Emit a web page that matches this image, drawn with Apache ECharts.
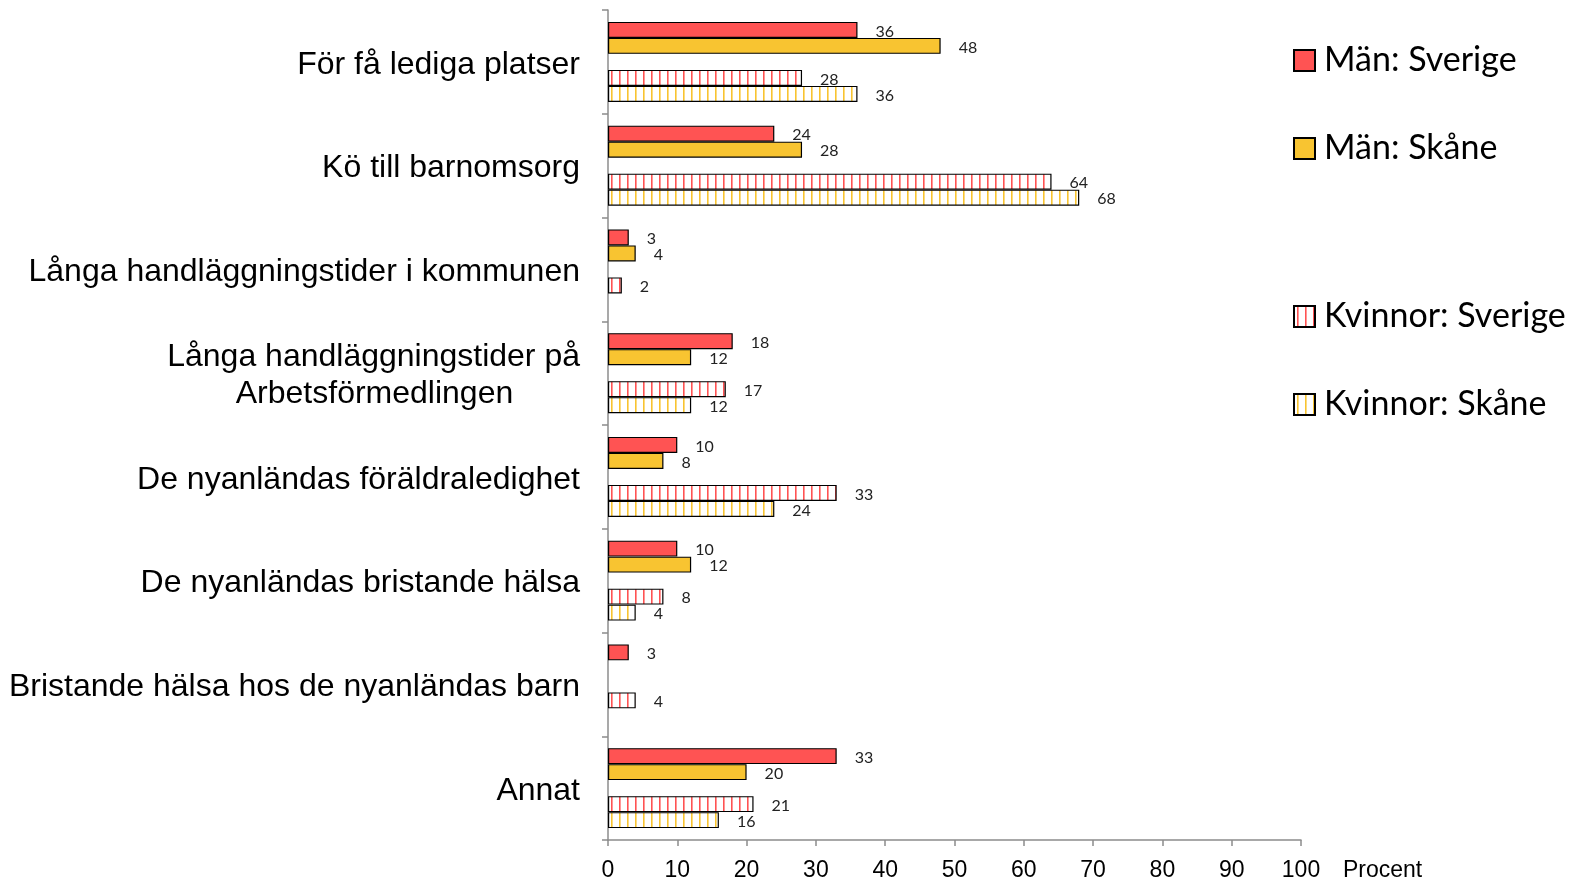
<!DOCTYPE html>
<html>
<head>
<meta charset="utf-8">
<script src="https://cdn.jsdelivr.net/npm/echarts@6/dist/echarts.min.js"></script>
<style>
    html, body { margin: 0; padding: 0; background: #fff; }
    #chart { width: 1572px; height: 880px; }
</style>
</head>
<body>
<div id="chart"></div>
<script>
// 数据
let categories = [
    'För få lediga platser',
    'Kö till barnomsorg',
    'Långa handläggningstider i kommunen',
    'Långa handläggningstider på\nArbetsförmedlingen',
    'De nyanländas föräldraledighet',
    'De nyanländas bristande hälsa',
    'Bristande hälsa hos de nyanländas barn',
    'Annat'
];
let manSverige = [36, 24, 3, 18, 10, 10, 3, 33];
let manSkane = [48, 28, 4, 12, 8, 12, '-', 20];
let kvinnorSverige = [28, 64, 2, 17, 33, 8, 4, 21];
let kvinnorSkane = [36, 68, '-', 12, 24, 4, '-', 16];
let xTicks = [0, 10, 20, 30, 40, 50, 60, 70, 80, 90, 100];

let red = '#FF5353';
let yellow = '#F8C431';

// 竖条纹填充
function stripes(color) {
    let c = document.createElement('canvas');
    c.width = 8;
    c.height = 16;
    let ctx = c.getContext('2d');
    ctx.fillStyle = '#fff';
    ctx.fillRect(0, 0, 8, 16);
    ctx.fillStyle = color;
    ctx.fillRect(3, 0, 1.6, 16);
    return {image: c, repeat: 'repeat'};
}

function barSeries(name, data, fill) {
    return {
        name: name,
        type: 'bar',
        data: data,
        barWidth: 16,
        barGap: '0%',
        itemStyle: {
            color: fill,
            borderColor: '#000',
            borderWidth: 1.2
        },
        label: {
            show: true,
            position: 'right',
            distance: 18,
            offset: [0, 1.5],
            fontSize: 16,
            color: '#222',
            fontFamily: 'Lato'
        }
    };
}

let legendText = {fontSize: 34, lineHeight: 32, color: '#000', fontFamily: 'Lato', padding: [0, 0, 0, 4]};

let myChart = echarts.init(document.getElementById('chart'));

let option = {
    animation: false,
    backgroundColor: '#fff',
    grid: {left: 608, right: 271, top: 10, bottom: 40, containLabel: false, outerBoundsMode: 'none'},
    legend: [{
        orient: 'vertical',
        left: 1293,
        top: 43.5,
        padding: 0,
        itemGap: 54,
        itemWidth: 21,
        itemHeight: 21,
        icon: 'rect',
        data: ['Män: Sverige', 'Män: Skåne'],
        textStyle: legendText
    }, {
        orient: 'vertical',
        left: 1293,
        top: 299.5,
        padding: 0,
        itemGap: 54,
        itemWidth: 21,
        itemHeight: 21,
        icon: 'rect',
        data: ['Kvinnor: Sverige', 'Kvinnor: Skåne'],
        textStyle: legendText
    }],
    xAxis: {
        type: 'value',
        min: xTicks[0],
        max: xTicks[xTicks.length - 1],
        interval: 10,
        splitLine: {show: false},
        axisLine: {show: true, lineStyle: {color: '#8c8c8c', width: 1.5}},
        axisTick: {show: true, length: 6, lineStyle: {color: '#8c8c8c', width: 1.5}},
        axisLabel: {fontSize: 23, color: '#000', fontFamily: 'Liberation Sans', margin: 19},
        name: 'Procent',
        nameLocation: 'end',
        nameGap: 42,
        nameTextStyle: {fontSize: 23, color: '#000', fontFamily: 'Liberation Sans',
            align: 'left', verticalAlign: 'top', padding: [19, 0, 0, 0]}
    },
    yAxis: {
        type: 'category',
        inverse: true,
        data: categories,
        axisLine: {show: true, lineStyle: {color: '#8c8c8c', width: 1.5}},
        axisTick: {show: true, length: 6, lineStyle: {color: '#8c8c8c', width: 1.5}},
        axisLabel: {
            fontSize: 32,
            color: '#000',
            fontFamily: 'Liberation Sans',
            margin: 28,
            lineHeight: 37,
            padding: [6, 0, 0, 0],
            formatter: function (v) {
                if (v.indexOf('\n') < 0) return v;
                let lines = v.split('\n');
                return '{a|' + lines[0] + '}\n{c|' + lines[1] + '}';
            },
            rich: {
                a: {width: 411, align: 'right', fontSize: 32, lineHeight: 37, fontFamily: 'Liberation Sans', color: '#000'},
                c: {width: 411, align: 'center', fontSize: 32, lineHeight: 37, fontFamily: 'Liberation Sans', color: '#000'}
            }
        }
    },
    series: [
        barSeries('Män: Sverige', manSverige, red),
        barSeries('Män: Skåne', manSkane, yellow),
        barSeries('', categories.map(function () { return '-'; }), 'transparent'),
        barSeries('Kvinnor: Sverige', kvinnorSverige, stripes(red)),
        barSeries('Kvinnor: Skåne', kvinnorSkane, stripes(yellow))
    ]
};
myChart.setOption(option);
</script>
</body>
</html>
